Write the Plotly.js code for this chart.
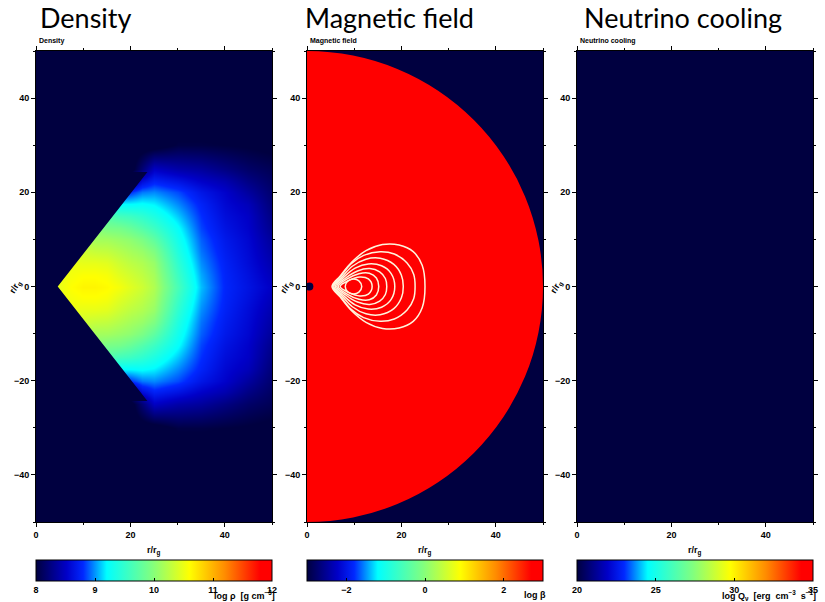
<!DOCTYPE html>
<html>
<head>
<meta charset="utf-8">
<script src="https://cdn.plot.ly/plotly-3.0.1.min.js"></script>
<style>
html,body{margin:0;padding:0;background:#ffffff;}
#chart{width:825px;height:602px;}
</style>
</head>
<body>
<div id="chart"></div>
<script>
// ---------------- data ----------------
const panelTitles = ['Density', 'Magnetic field', 'Neutrino cooling'];
const axisLabel = 'r/r<sub>g</sub>';
const colorbarTitles = ['log ρ  [g cm<sup>−3</sup>]', 'log β', 'log Q<sub>ν</sub>  [erg  cm<sup>−3</sup>  s<sup>−1</sup>]'];

// log density grid (r/r_g units); values below 8 are the dark background
const densityX = [0, 2.5, 5, 7.5, 10, 12.5, 15, 17.5, 20, 22.5, 25, 30, 35, 40, 45, 50];
const densityY = [-50, -35, -30, -25, -22.5, -20, -17.5, -15, -12.5, -10, -7.5, -5, -2.5,
                  0, 2.5, 5, 7.5, 10, 12.5, 15, 17.5, 20, 22.5, 25, 30, 35, 50];
const densityLogRho = [
  [7.9,7.9,7.9,7.9,7.9,7.9,7.9,7.9,7.9,7.9,7.9,7.9,7.9,7.9,7.9,7.9],                   // -50
  [7.9,7.9,7.9,7.9,7.9,7.9,7.9,7.9,7.9,7.9,7.9,7.9,7.9,7.9,7.9,7.9],                   // -35
  [7.9,7.9,7.9,7.9,7.9,7.9,7.9,7.9,7.9,7.9,7.9,8.02,8.02,8.0,7.98,7.95],               // -30
  [7.9,7.9,7.9,7.9,7.9,7.9,7.9,7.9,7.9,8.2,8.5,8.4,8.35,8.25,8.15,8.08],               // -25
  [7.9,7.9,7.9,7.9,7.9,7.9,7.9,7.9,8.2,8.6,8.75,8.65,8.52,8.42,8.26,8.13],             // -22.5
  [8.7,8.7,8.7,8.7,8.7,8.7,8.7,8.7,8.8,8.95,8.98,8.86,8.67,8.53,8.36,8.17],            // -20
  [9.2,9.2,9.2,9.2,9.2,9.2,9.2,9.2,9.2,9.22,9.18,8.98,8.76,8.57,8.46,8.21],            // -17.5
  [9.7,9.7,9.7,9.7,9.7,9.7,9.7,9.6,9.56,9.48,9.37,9.1,8.81,8.61,8.51,8.25],            // -15
  [10,10,10,10,10,10,9.92,9.9,9.82,9.7,9.56,9.22,8.85,8.65,8.53,8.29],                 // -12.5
  [10.2,10.2,10.2,10.2,10.2,10.13,10.13,10.08,10.03,9.93,9.76,9.3,8.9,8.69,8.56,8.34], // -10
  [10.3,10.3,10.3,10.3,10.35,10.31,10.29,10.22,10.15,10.08,9.95,9.38,8.94,8.72,8.58,8.38], // -7.5
  [10.3,10.4,10.45,10.5,10.48,10.48,10.45,10.35,10.27,10.2,10.08,9.47,8.99,8.75,8.6,8.42], // -5
  [10.3,10.4,10.5,10.55,10.59,10.59,10.56,10.45,10.37,10.28,10.15,9.55,9.04,8.77,8.63,8.46], // -2.5
  [10.3,10.4,10.5,10.6,10.65,10.65,10.62,10.55,10.45,10.35,10.2,9.62,9.08,8.78,8.65,8.5],   // 0
  [10.3,10.4,10.5,10.55,10.59,10.59,10.56,10.45,10.37,10.28,10.15,9.55,9.04,8.77,8.63,8.46], // 2.5
  [10.3,10.4,10.45,10.5,10.48,10.48,10.45,10.35,10.27,10.2,10.08,9.47,8.99,8.75,8.6,8.42], // 5
  [10.3,10.3,10.3,10.3,10.35,10.31,10.29,10.22,10.15,10.08,9.95,9.38,8.94,8.72,8.58,8.38], // 7.5
  [10.2,10.2,10.2,10.2,10.2,10.13,10.13,10.08,10.03,9.93,9.76,9.3,8.9,8.69,8.56,8.34], // 10
  [10,10,10,10,10,10,9.92,9.9,9.82,9.7,9.56,9.22,8.85,8.65,8.53,8.29],                 // 12.5
  [9.7,9.7,9.7,9.7,9.7,9.7,9.7,9.6,9.56,9.48,9.37,9.1,8.81,8.61,8.51,8.25],            // 15
  [9.2,9.2,9.2,9.2,9.2,9.2,9.2,9.2,9.2,9.22,9.18,8.98,8.76,8.57,8.46,8.21],            // 17.5
  [8.7,8.7,8.7,8.7,8.7,8.7,8.7,8.7,8.8,8.95,8.98,8.86,8.67,8.53,8.36,8.17],            // 20
  [7.9,7.9,7.9,7.9,7.9,7.9,7.9,7.9,8.2,8.6,8.75,8.65,8.52,8.42,8.26,8.13],             // 22.5
  [7.9,7.9,7.9,7.9,7.9,7.9,7.9,7.9,7.9,8.2,8.5,8.4,8.35,8.25,8.15,8.08],               // 25
  [7.9,7.9,7.9,7.9,7.9,7.9,7.9,7.9,7.9,7.9,7.9,8.02,8.02,8.0,7.98,7.95],               // 30
  [7.9,7.9,7.9,7.9,7.9,7.9,7.9,7.9,7.9,7.9,7.9,7.9,7.9,7.9,7.9,7.9],                   // 35
  [7.9,7.9,7.9,7.9,7.9,7.9,7.9,7.9,7.9,7.9,7.9,7.9,7.9,7.9,7.9,7.9]                    // 50
];
// evacuated funnel above/below the torus surface (empty, below the colour range)
const funnelX = [4.6, 23.6, 0, 0, 23.6, 4.6];
const funnelY = [0, 24.3, 24.3, -24.3, -24.3, 0];

// magnetic panel: log beta saturates (>= 3) inside the computational domain r <= 50
const betaDomainRadius = 50;
const betaDomainLogBeta = 3;
const horizonX = [0.5];
const horizonY = [0];
const horizonLogBeta = [-3];

// field-line loops (x, y in r/r_g), outermost first
const loopX = [
  [5.3,7,9.5,12.5,16,19.5,22.5,24.4,25,24.4,22.5,19.5,16,12.5,9.5,7,5.3],
  [5.5,7.2,9.3,12,15.5,18.5,21.2,22.6,22.9,22.6,21.2,18.5,15.5,12,9.3,7.2,5.5],
  [5.7,7.4,9.6,12.5,15.5,18.4,20,20.4,20,18.4,15.5,12.5,9.6,7.4,5.7],
  [6,7.8,10.2,13,15.8,17.8,18.6,17.8,15.8,13,10.2,7.8,6],
  [6.3,8.2,10.7,13.3,15.4,16.6,16.9,16.6,15.4,13.3,10.7,8.2,6.3],
  [6.6,8.5,11,13.2,14.7,15.2,14.7,13.2,11,8.5,6.6],
  [7,8.9,11.2,13,13.8,13,11.2,8.9,7],
  [8.1,8.6,9.8,11,11.6,11,9.8,8.6,8.1]
];
const loopY = [
  [0,2.2,5.2,7.6,8.9,8.8,7.4,4.5,0,-4.5,-7.4,-8.8,-8.9,-7.6,-5.2,-2.2,0],
  [0,2.2,4.8,6.6,7.4,6.9,5,2.6,0,-2.6,-5,-6.9,-7.4,-6.6,-4.8,-2.2,0],
  [0,2,4.3,5.8,6,4.7,2.4,0,-2.4,-4.7,-6,-5.8,-4.3,-2,0],
  [0,2,3.9,4.8,4.4,2.8,0,-2.8,-4.4,-4.8,-3.9,-2,0],
  [0,1.8,3.3,3.8,3.1,1.7,0,-1.7,-3.1,-3.8,-3.3,-1.8,0],
  [0,1.6,2.7,2.8,1.8,0,-1.8,-2.8,-2.7,-1.6,0],
  [0,1.3,2,1.6,0,-1.6,-2,-1.3,0],
  [0,1.1,1.6,1.2,0,-1.2,-1.6,-1.1,0]
];

// neutrino cooling: at or below the colour-bar minimum everywhere
const neutrinoX = [0, 50];
const neutrinoY = [-50, 50];
const neutrinoLogQ = [[20, 20], [20, 20]];

const densityRange = [8, 12];
const betaRange = [-3, 3];
const neutrinoRange = [20, 35];

// ---------------- styling ----------------
const jet = [
  [0, '#000040'], [0.13, '#0000c8'], [0.2, '#0028ff'], [0.3, '#00ffff'],
  [0.49, '#80ff80'], [0.65, '#ffff00'], [0.8, '#ff8c00'], [0.95, '#ff0000'], [1, '#ff0000']
];
const W = 825, H = 602;
const panelsPx = [[36, 272], [307, 543], [577, 813]];
const plotTop = 51, plotBottom = 522;
const labelFamily = 'Liberation Sans, Arial, sans-serif';
const tickFont = {family: labelFamily, size: 9, color: '#000', weight: 'bold'};

function xAxis(i) {
  return {
    domain: [panelsPx[i][0] / W, panelsPx[i][1] / W], anchor: 'y' + (i ? i + 1 : ''),
    range: [0, 50], tick0: 0, dtick: 20, ticks: 'outside', ticklen: 4, tickwidth: 1, tickcolor: '#000',
    minor: {dtick: 10, ticks: 'outside', ticklen: 2, tickcolor: '#000', tickwidth: 1},
    showline: true, linecolor: '#000', linewidth: 1, mirror: 'allticks',
    showgrid: false, zeroline: false, tickfont: tickFont, fixedrange: true
  };
}
function yAxis(i) {
  return {
    domain: [1 - plotBottom / H, 1 - plotTop / H], anchor: 'x' + (i ? i + 1 : ''),
    range: [-50, 50], tick0: 0, dtick: 20, ticks: 'outside', ticklen: 4, tickwidth: 1, tickcolor: '#000',
    minor: {dtick: 10, ticks: 'outside', ticklen: 2, tickcolor: '#000', tickwidth: 1},
    showline: true, linecolor: '#000', linewidth: 1, mirror: 'allticks',
    showgrid: false, zeroline: false, tickfont: tickFont, fixedrange: true
  };
}
function colorbar(i, dtick, tick0) {
  return {
    orientation: 'h', x: (panelsPx[i][0] + panelsPx[i][1]) / 2 / W, xanchor: 'center',
    y: 1 - 560 / H, yanchor: 'top', len: panelsPx[i][1] - panelsPx[i][0], lenmode: 'pixels',
    thickness: 21, thicknessmode: 'pixels', xpad: 0, ypad: 0,
    outlinecolor: '#000', outlinewidth: 1, ticks: 'inside', ticklen: 3, tickcolor: '#000',
    dtick: dtick, tick0: tick0, tickfont: tickFont, title: {text: ''}
  };
}

const traces = [];
traces.push({
  type: 'heatmap', x: densityX, y: densityY, z: densityLogRho, xaxis: 'x', yaxis: 'y',
  colorscale: jet, zmin: densityRange[0], zmax: densityRange[1], zsmooth: 'best',
  colorbar: colorbar(0, 1, 8), hoverinfo: 'skip'
});
traces.push({
  type: 'scatter', mode: 'lines', x: funnelX, y: funnelY, xaxis: 'x', yaxis: 'y',
  fill: 'toself', fillcolor: jet[0][1], line: {width: 0, color: jet[0][1]}, hoverinfo: 'skip', showlegend: false
});
loopX.forEach(function (lx, k) {
  traces.push({
    type: 'scatter', mode: 'lines', x: lx, y: loopY[k], xaxis: 'x2', yaxis: 'y2',
    line: {color: '#fff4dc', width: 1.5, shape: 'spline', smoothing: 1}, hoverinfo: 'skip', showlegend: false
  });
});
traces.push({
  type: 'scatter', mode: 'markers', x: horizonX, y: horizonY, xaxis: 'x2', yaxis: 'y2',
  marker: {color: horizonLogBeta, colorscale: jet, cmin: betaRange[0], cmax: betaRange[1], size: 8,
           line: {width: 0}, showscale: true, colorbar: colorbar(1, 2, 0)},
  hoverinfo: 'skip', showlegend: false
});
traces.push({
  type: 'heatmap', x: neutrinoX, y: neutrinoY, z: neutrinoLogQ, xaxis: 'x3', yaxis: 'y3',
  colorscale: jet, zmin: neutrinoRange[0], zmax: neutrinoRange[1],
  colorbar: colorbar(2, 5, 20), hoverinfo: 'skip'
});

// colour of the saturated beta value taken from the colour scale
const satFrac = (betaDomainLogBeta - betaRange[0]) / (betaRange[1] - betaRange[0]);
let domainFill = jet[jet.length - 1][1];
for (let k = 0; k < jet.length; k++) { if (jet[k][0] >= satFrac) { domainFill = jet[k][1]; break; } }

const bigTitleLeft = [38, 303, 582];
const annotations = [];
panelTitles.forEach(function (t, i) {
  const left = panelsPx[i][0], mid = (panelsPx[i][0] + panelsPx[i][1]) / 2, right = panelsPx[i][1];
  annotations.push({text: t, xref: 'paper', yref: 'paper', x: bigTitleLeft[i] / W, y: 1 - 17 / H,
    xanchor: 'left', yanchor: 'middle', showarrow: false, font: {family: 'Lato, sans-serif', size: 27, color: '#000'}});
  annotations.push({text: t, xref: 'paper', yref: 'paper', x: (left + 1) / W, y: 1 - 41 / H,
    xanchor: 'left', yanchor: 'middle', showarrow: false, font: {family: labelFamily, size: 7, color: '#000', weight: 'bold'}});
  annotations.push({text: axisLabel, xref: 'paper', yref: 'paper', x: mid / W, y: 1 - 551 / H,
    xanchor: 'center', yanchor: 'middle', showarrow: false, font: {family: labelFamily, size: 9, color: '#000', weight: 'bold'}});
  annotations.push({text: axisLabel, xref: 'paper', yref: 'paper', x: (left - 20) / W, y: 1 - 287 / H, textangle: -60,
    xanchor: 'center', yanchor: 'middle', showarrow: false, font: {family: labelFamily, size: 9, color: '#000', weight: 'bold'}});
  annotations.push({text: colorbarTitles[i], xref: 'paper', yref: 'paper', x: (right + 5) / W, y: 1 - 595 / H,
    xanchor: 'right', yanchor: 'middle', showarrow: false, font: {family: labelFamily, size: 9, color: '#000', weight: 'bold'}});
});

const layout = {
  width: W, height: H, margin: {l: 0, r: 0, t: 0, b: 0},
  paper_bgcolor: '#ffffff', plot_bgcolor: jet[0][1], showlegend: false,
  xaxis: xAxis(0), yaxis: yAxis(0), xaxis2: xAxis(1), yaxis2: yAxis(1), xaxis3: xAxis(2), yaxis3: yAxis(2),
  shapes: [{type: 'circle', xref: 'x2', yref: 'y2', x0: -betaDomainRadius, x1: betaDomainRadius,
            y0: -betaDomainRadius, y1: betaDomainRadius, fillcolor: domainFill, line: {width: 0}, layer: 'below'}],
  annotations: annotations
};

Plotly.newPlot('chart', traces, layout, {displayModeBar: false, staticPlot: true});
</script>
</body>
</html>
